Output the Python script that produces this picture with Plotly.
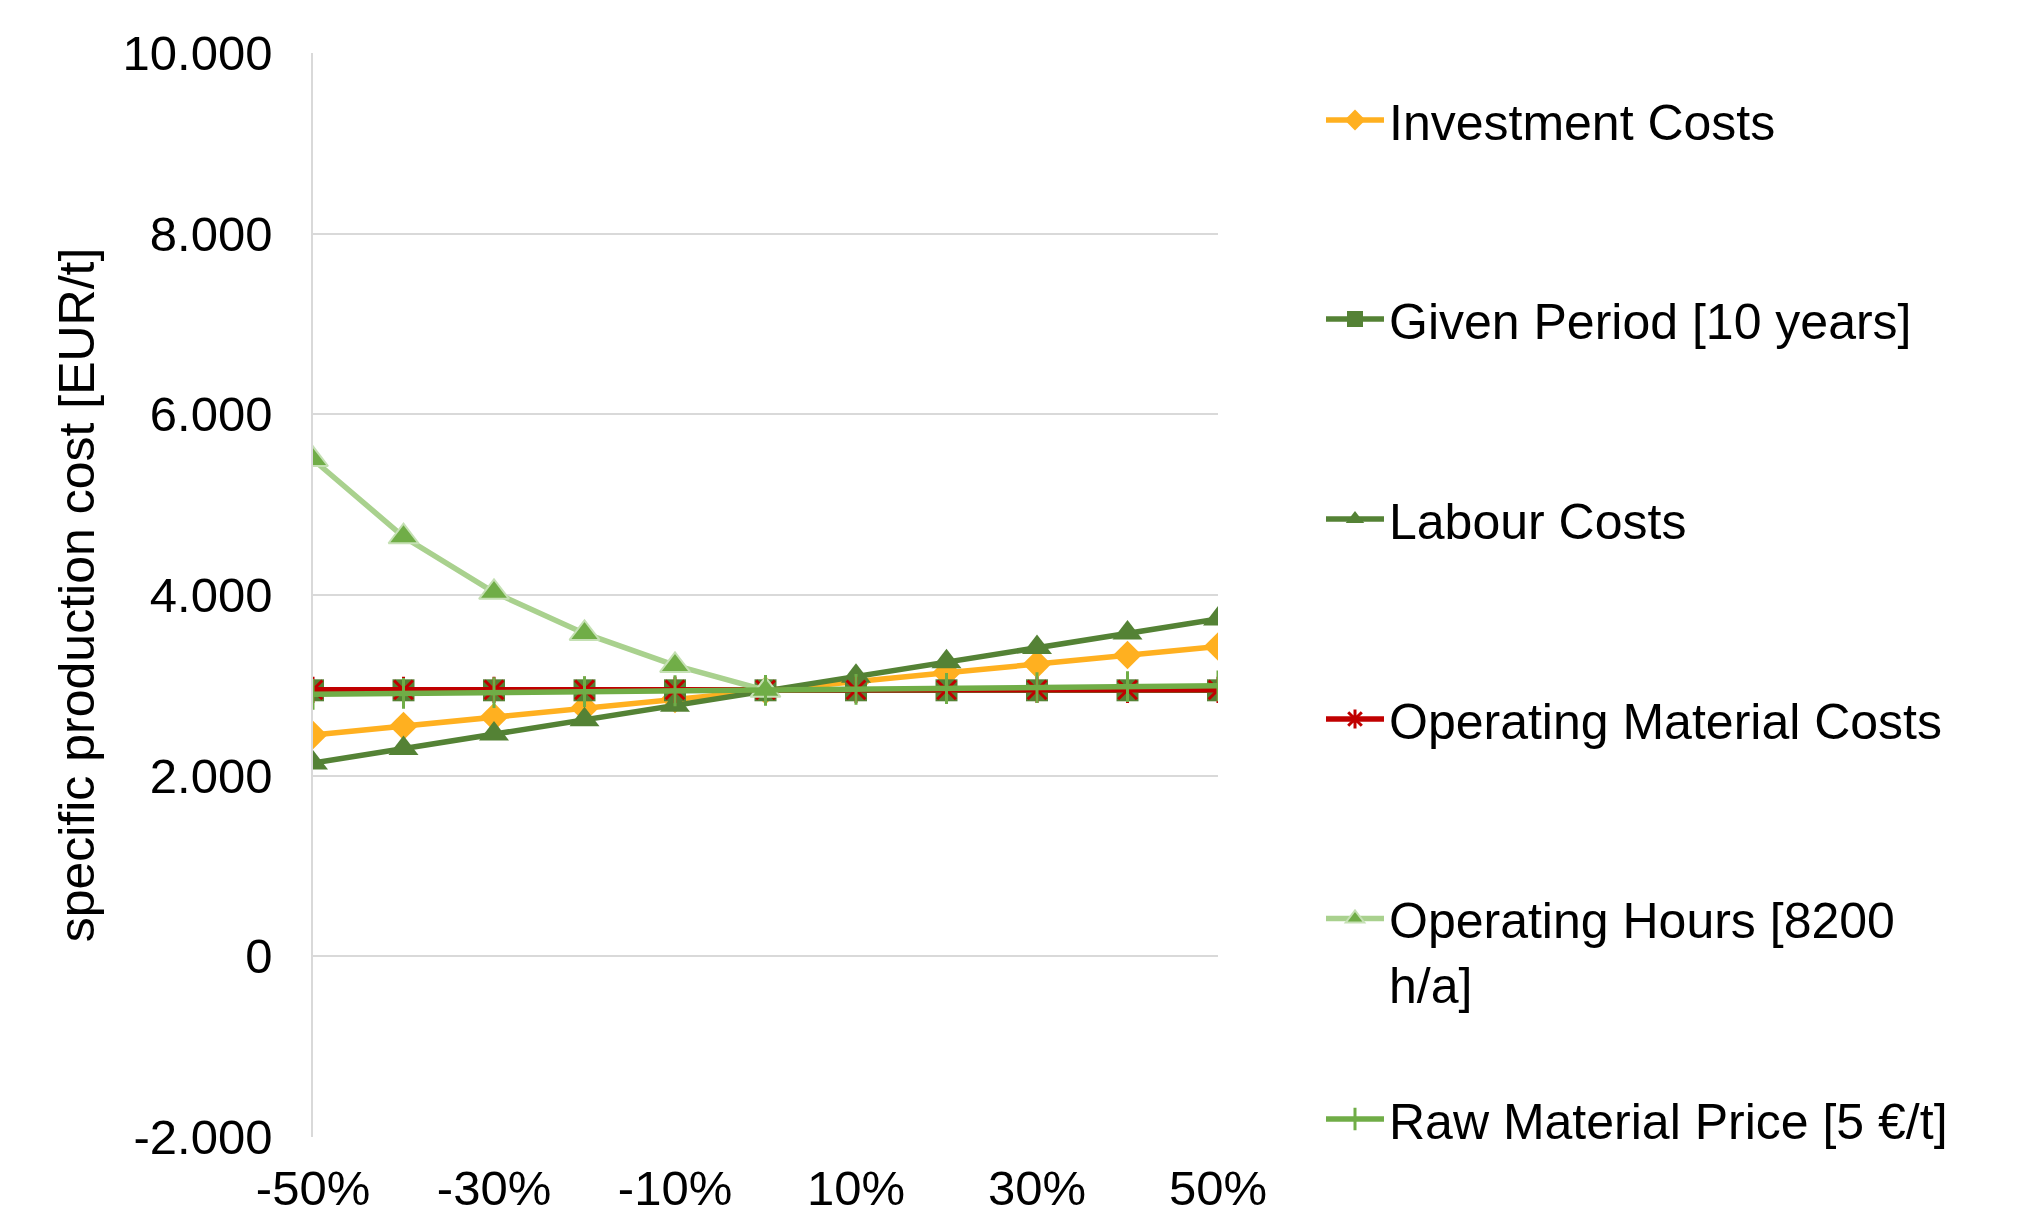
import plotly.graph_objects as go

# Sensitivity of specific production cost to +/- variation of each parameter
variation = [-50, -40, -30, -20, -10, 0, 10, 20, 30, 40, 50]
x_tick_vals = [-50, -30, -10, 10, 30, 50]
x_tick_text = ["-50%", "-30%", "-10%", "10%", "30%", "50%"]

y_tick_vals = [-2000, 0, 2000, 4000, 6000, 8000, 10000]
y_tick_text = ["-2.000", "0", "2.000", "4.000", "6.000", "8.000", "10.000"]

investment_costs = [2450, 2550, 2650, 2750, 2850, 2945, 3040, 3140, 3235, 3335, 3430]
given_period = [2945, 2945, 2945, 2945, 2945, 2945, 2945, 2945, 2945, 2945, 2945]
labour_costs = [2140, 2300, 2460, 2620, 2780, 2945, 3100, 3260, 3420, 3580, 3735]
operating_material = [2950, 2950, 2950, 2950, 2950, 2950, 2950, 2950, 2950, 2950, 2950]
operating_hours = [5500, 4645, 4030, 3575, 3220, 2945, None, None, None, None, None]
raw_material = [2900, 2910, 2920, 2930, 2940, 2945, 2955, 2965, 2975, 2985, 2995]

FONT = "Liberation Sans, Arial, sans-serif"
FS = 49

series = [
    dict(name="Investment Costs", y=investment_costs, line="#FFB020",
         marker=dict(symbol="diamond", size=22, color="#FFB020")),
    dict(name="Given Period [10 years]", y=given_period, line="#548235",
         marker=dict(symbol="square", size=22, color="#548235")),
    dict(name="Labour Costs", y=labour_costs, line="#548235",
         marker=dict(symbol="triangle-up", size=26, color="#548235")),
    dict(name="Operating Material Costs", y=operating_material, line="#C00000",
         marker=dict(symbol="asterisk-open", size=22, color="#C00000",
                     line=dict(color="#C00000", width=3))),
    dict(name="Operating Hours [8200<br>h/a]", y=operating_hours, line="#A9D18E",
         marker=dict(symbol="triangle-up", size=26, color="#70AD47",
                     line=dict(color="#C5E0B4", width=2))),
    dict(name="Raw Material Price [5 €/t]", y=raw_material, line="#70AD47",
         marker=dict(symbol="cross-thin-open", size=22, color="#70AD47",
                     line=dict(color="#70AD47", width=3))),
]

# centre of each legend entry (px from top of the page)
legend_centres = [120, 319, 519, 719, 919, 1119]
W, H = 2030, 1216

fig = go.Figure()
layout_legends = {}
for i, s in enumerate(series):
    key = "legend" if i == 0 else f"legend{i + 1}"
    fig.add_trace(go.Scatter(
        x=variation, y=s["y"], name=s["name"], mode="lines+markers",
        line=dict(color=s["line"], width=5.5),
        marker=s["marker"],
        legend=key,
    ))
    yc = legend_centres[i]
    multiline = "<br>" in s["name"]
    layout_legends[key] = dict(
        x=1321 / W, xref="container", xanchor="left",
        y=1 - (yc + (32 if multiline else 0)) / H, yref="container", yanchor="middle",
        font=dict(family=FONT, size=50, color="#000000"),
        itemwidth=58, valign="top",
        bgcolor="rgba(0,0,0,0)",
    )

fig.update_layout(
    width=W, height=H,
    margin=dict(l=313, r=812, t=53, b=79, autoexpand=False),
    paper_bgcolor="white", plot_bgcolor="white",
    font=dict(family=FONT, size=FS, color="#000000"),
    showlegend=True,
    **layout_legends,
)

fig.update_xaxes(
    range=[-50, 50], tickvals=x_tick_vals, ticktext=x_tick_text,
    showgrid=False, zeroline=False, showline=False, automargin=False,
    ticks="", ticklabelstandoff=18,
    tickfont=dict(family=FONT, size=FS, color="#000000"),
)
fig.update_yaxes(
    range=[-2000, 10000], tickvals=y_tick_vals, ticktext=y_tick_text,
    showgrid=True, gridcolor="#D9D9D9", gridwidth=1.5, automargin=False,
    zeroline=False, showline=True, linecolor="#D9D9D9", linewidth=1.5,
    ticks="", ticklabelstandoff=29,
    tickfont=dict(family=FONT, size=FS, color="#000000"),
    title=dict(text="specific production cost [EUR/t]", standoff=12,
               font=dict(family=FONT, size=50, color="#000000")),
)

fig.write_html("out.html")
